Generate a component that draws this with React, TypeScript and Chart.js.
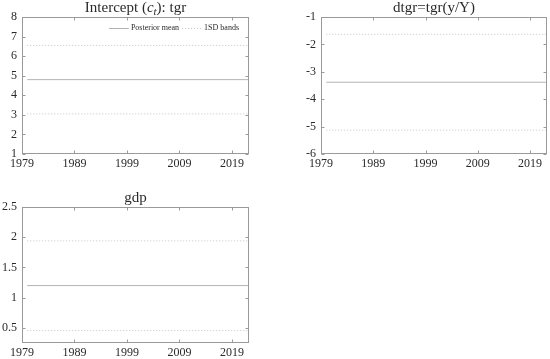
import React, { useEffect, useRef } from 'react';
import { Chart, registerables } from 'chart.js';

Chart.register(...registerables);

// ---------- data ----------
const X_MIN = 1979;
const X_MAX = 2022.25;
const X_TICKS = [1979, 1989, 1999, 2009, 2019];
const DATES = [1980, 2022.25];

const TGR_MEAN = [4.8, 4.8];
const TGR_UPPER = [6.55, 6.55];
const TGR_LOWER = [3.05, 3.05];
const TGR_TICKS = [1, 2, 3, 4, 5, 6, 7, 8];

const DTGR_MEAN = [-3.38, -3.38];
const DTGR_UPPER = [-1.63, -1.63];
const DTGR_LOWER = [-5.13, -5.13];
const DTGR_TICKS = [-6, -5, -4, -3, -2, -1];

const GDP_MEAN = [1.2, 1.2];
const GDP_UPPER = [1.94, 1.94];
const GDP_LOWER = [0.455, 0.455];
const GDP_TICKS = [0.5, 1, 1.5, 2, 2.5];
const GDP_MIN = 0.25;
const GDP_MAX = 2.5;

const LEGEND_LABELS = ['Posterior mean', '1SD bands'];

type Part = { text: string; italic?: boolean; sub?: boolean };
const TITLE_TGR: Part[] = [
  { text: 'Intercept (' },
  { text: 'c', italic: true },
  { text: 't', italic: true, sub: true },
  { text: '): tgr' },
];
const TITLE_DTGR: Part[] = [{ text: 'dtgr=tgr(y/Y)' }];
const TITLE_GDP: Part[] = [{ text: 'gdp' }];

// ---------- styles ----------
const FONT = '"Liberation Serif", "DejaVu Serif", serif';
const TEXT_COLOR = '#2a2a2a';
const AXIS_COLOR = '#9a9a9a';
const MEAN_COLOR = '#b4b4b4';
const BAND_COLOR = '#c4c4c4';

type Panel = {
  left: number; top: number; w: number; h: number;
  area: { l: number; t: number; r: number; b: number };
  title: Part[];
  mean: number[]; upper: number[]; lower: number[];
  yTicks: number[]; yMin: number; yMax: number;
  legend: boolean;
};

const PANELS: Panel[] = [
  {
    left: 0, top: 0, w: 260, h: 180,
    area: { l: 22, t: 17, r: 249, b: 154 },
    title: TITLE_TGR, mean: TGR_MEAN, upper: TGR_UPPER, lower: TGR_LOWER,
    yTicks: TGR_TICKS, yMin: TGR_TICKS[0], yMax: TGR_TICKS[TGR_TICKS.length - 1],
    legend: true,
  },
  {
    left: 290, top: 0, w: 260, h: 180,
    area: { l: 31, t: 17, r: 257, b: 154 },
    title: TITLE_DTGR, mean: DTGR_MEAN, upper: DTGR_UPPER, lower: DTGR_LOWER,
    yTicks: DTGR_TICKS, yMin: DTGR_TICKS[0], yMax: DTGR_TICKS[DTGR_TICKS.length - 1],
    legend: false,
  },
  {
    left: 0, top: 180, w: 260, h: 179,
    area: { l: 22, t: 27, r: 249, b: 163 },
    title: TITLE_GDP, mean: GDP_MEAN, upper: GDP_UPPER, lower: GDP_LOWER,
    yTicks: GDP_TICKS, yMin: GDP_MIN, yMax: GDP_MAX,
    legend: false,
  },
];

const framePlugin = {
  id: 'frame',
  afterDatasetsDraw(chart: any) {
    const { ctx, chartArea: a, scales } = chart;
    const L = Math.round(a.left) + 0.5;
    const R = Math.round(a.right) - 0.5;
    const T = Math.round(a.top) + 0.5;
    const B = Math.round(a.bottom) - 0.5;
    ctx.save();
    ctx.strokeStyle = AXIS_COLOR;
    ctx.lineWidth = 1;
    ctx.setLineDash([]);
    ctx.strokeRect(L, T, R - L, B - T);
    const tl = 3;
    ctx.beginPath();
    scales.x.ticks.forEach((t: any) => {
      const px = Math.round(scales.x.getPixelForValue(t.value)) + 0.5;
      ctx.moveTo(px, B); ctx.lineTo(px, B - tl);
      ctx.moveTo(px, T); ctx.lineTo(px, T + tl);
    });
    scales.y.ticks.forEach((t: any) => {
      const py = Math.round(scales.y.getPixelForValue(t.value)) + 0.5;
      ctx.moveTo(L, py); ctx.lineTo(L + tl, py);
      ctx.moveTo(R, py); ctx.lineTo(R - tl, py);
    });
    ctx.stroke();
    ctx.restore();
  },
};

const titlePlugin = {
  id: 'partsTitle',
  afterDraw(chart: any, _args: any, opts: any) {
    const parts: Part[] = opts.parts || [];
    const { ctx, chartArea: a } = chart;
    const size = 15;
    const fontFor = (p: Part) =>
      `${p.italic ? 'italic ' : ''}${p.sub ? Math.round(size * 0.7) : size}px ${FONT}`;
    ctx.save();
    ctx.fillStyle = TEXT_COLOR;
    ctx.textBaseline = 'alphabetic';
    ctx.textAlign = 'left';
    let total = 0;
    const widths = parts.map((p) => {
      ctx.font = fontFor(p);
      const w = ctx.measureText(p.text).width;
      total += w;
      return w;
    });
    let x = (a.left + a.right) / 2 - total / 2;
    const y = a.top - 5;
    parts.forEach((p, i) => {
      ctx.font = fontFor(p);
      ctx.fillText(p.text, x, p.sub ? y + 3 : y);
      x += widths[i];
    });
    ctx.restore();
  },
};

// Horizontal legend drawn inside the plot area (top right), from the datasets' own styles
const innerLegendPlugin = {
  id: 'innerLegend',
  afterDatasetsDraw(chart: any, _args: any, opts: any) {
    if (!opts.show) return;
    const { ctx, chartArea: a } = chart;
    const items = chart.data.datasets.slice(0, 2);
    const sample = 20, textGap = 2, itemGap = 3, rightPad = 10;
    const y = a.top + 11;
    ctx.save();
    ctx.font = `8px ${FONT}`;
    ctx.textBaseline = 'middle';
    ctx.textAlign = 'left';
    const widths = items.map((d: any) => sample + textGap + ctx.measureText(d.label).width);
    const total = widths.reduce((s: number, w: number) => s + w, 0) + itemGap * (items.length - 1);
    let x = a.right - rightPad - total;
    items.forEach((d: any, i: number) => {
      ctx.strokeStyle = d.borderColor;
      ctx.lineWidth = d.borderWidth;
      ctx.setLineDash(d.borderDash || []);
      ctx.beginPath();
      ctx.moveTo(x, Math.round(y) + 0.5);
      ctx.lineTo(x + sample, Math.round(y) + 0.5);
      ctx.stroke();
      ctx.setLineDash([]);
      ctx.fillStyle = TEXT_COLOR;
      ctx.fillText(d.label, x + sample + textGap, y);
      x += widths[i] + itemGap;
    });
    ctx.restore();
  },
};

function makeChart(canvas: HTMLCanvasElement, p: Panel) {
  const pts = (arr: number[]) => DATES.map((d, i) => ({ x: d, y: arr[i] }));
  return new Chart(canvas, {
    type: 'line',
    data: {
      datasets: [
        {
          label: LEGEND_LABELS[0], data: pts(p.mean),
          borderColor: MEAN_COLOR, borderWidth: 1, pointRadius: 0, fill: false,
        },
        {
          label: LEGEND_LABELS[1], data: pts(p.upper),
          borderColor: BAND_COLOR, borderWidth: 1, borderDash: [1, 2], pointRadius: 0, fill: false,
        },
        {
          label: LEGEND_LABELS[1], data: pts(p.lower),
          borderColor: BAND_COLOR, borderWidth: 1, borderDash: [1, 2], pointRadius: 0, fill: false,
        },
      ],
    },
    options: {
      responsive: false,
      animation: false,
      events: [],
      devicePixelRatio: 1,
      layout: { padding: { top: p.area.t, right: p.w - p.area.r, left: 0, bottom: 0 } },
      scales: {
        x: {
          type: 'linear', min: X_MIN, max: X_MAX,
          grid: { display: false, drawTicks: false },
          border: { display: false },
          afterBuildTicks: (s: any) => { s.ticks = X_TICKS.map((v) => ({ value: v })); },
          afterFit: (s: any) => { s.height = p.h - p.area.b; },
          ticks: {
            autoSkip: false, maxRotation: 0, padding: 3, color: TEXT_COLOR,
            font: { family: FONT, size: 12 },
            callback: (v: any) => String(v),
          },
        },
        y: {
          type: 'linear', min: p.yMin, max: p.yMax,
          grid: { display: false, drawTicks: false },
          border: { display: false },
          afterBuildTicks: (s: any) => { s.ticks = p.yTicks.map((v) => ({ value: v })); },
          afterFit: (s: any) => { s.width = p.area.l; },
          ticks: {
            autoSkip: false, padding: 5, color: TEXT_COLOR,
            font: { family: FONT, size: 12 },
            callback: (v: any) => String(v),
          },
        },
      },
      plugins: {
        tooltip: { enabled: false },
        title: { display: false },
        legend: { display: false },
        partsTitle: { parts: p.title },
        innerLegend: { show: p.legend },
      } as any,
    },
    plugins: [framePlugin, titlePlugin, innerLegendPlugin],
  } as any);
}

export default function App() {
  const refs = useRef<(HTMLCanvasElement | null)[]>([]);
  useEffect(() => {
    const charts = PANELS.map((p, i) => makeChart(refs.current[i] as HTMLCanvasElement, p));
    return () => charts.forEach((c) => c.destroy());
  }, []);
  return (
    <div style={{ position: 'fixed', left: 0, top: 0, width: 550, height: 359, background: '#fff' }}>
      {PANELS.map((p, i) => (
        <canvas
          key={i}
          ref={(el) => { refs.current[i] = el; }}
          width={p.w}
          height={p.h}
          style={{ position: 'absolute', left: p.left, top: p.top, width: p.w, height: p.h }}
        />
      ))}
    </div>
  );
}
